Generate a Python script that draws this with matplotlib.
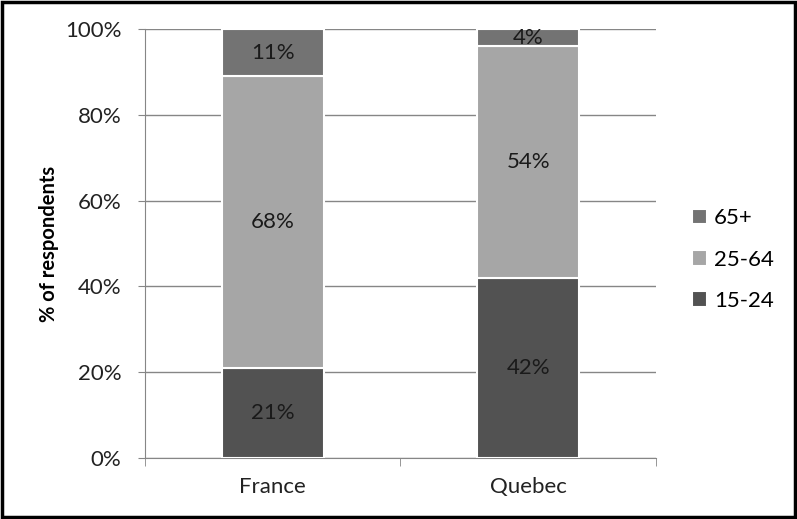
import matplotlib
matplotlib.use("Agg")
import matplotlib.pyplot as plt
from matplotlib.patches import Rectangle
import numpy as np

categories = ["France", "Quebec"]
series_names = ["15-24", "25-64", "65+"]
v_15_24 = [21, 42]
v_25_64 = [68, 54]
v_65p = [11, 4]
colors = ["#525252", "#a6a6a6", "#737373"]
yticks = [0, 20, 40, 60, 80, 100]

plt.rcParams['font.family'] = ['Lato', 'DejaVu Sans']

fig = plt.figure(figsize=(7.97, 5.19), dpi=100)
ax = fig.add_axes([0.182, 0.1175, 0.641, 0.8265])

x = np.arange(len(categories))
series = [v_15_24, v_25_64, v_65p]
bottom = np.zeros(len(categories))
for vals, name, c in zip(series, series_names, colors):
    vals = np.array(vals, dtype=float)
    ax.bar(x, vals, width=0.4, bottom=bottom, color=c, edgecolor="white",
           linewidth=1.5, label=name, zorder=3)
    for xi, b, v in zip(x, bottom, vals):
        ax.text(xi, b + v / 2, f"{int(v)}%", ha="center", va="center",
                fontsize=16, color="#1a1a1a", zorder=4)
    bottom += vals

ax.set_xlim(-0.5, 1.5)
ax.set_ylim(0, 100)
ax.set_yticks(yticks)
ax.set_yticklabels([f"{t}%" for t in yticks], fontsize=16, color="#222222")
ax.set_xticks(x)
ax.set_xticklabels(categories, fontsize=16, color="#222222")
ax.tick_params(axis="x", length=0, pad=14)
ax.tick_params(axis="y", length=5, color="#868686", pad=12)
ax.set_xticks([-0.5, 0.5, 1.5], minor=True)
ax.tick_params(axis="x", which="minor", length=6, color="#868686")
ax.grid(axis="y", color="#868686", linewidth=1, zorder=0)
for s in ["top", "right"]:
    ax.spines[s].set_visible(False)
ax.spines["left"].set_color("#868686")
ax.spines["bottom"].set_color("#868686")
ax.set_ylabel("% of respondents", fontsize=14.5, fontweight="bold", labelpad=4)

handles, labels = ax.get_legend_handles_labels()
leg = fig.legend(handles[::-1], labels[::-1], loc="center left",
                 bbox_to_anchor=(0.843, 0.5), frameon=False, fontsize=16,
                 handlelength=0.7, handleheight=0.7, handletextpad=0.3,
                 labelspacing=0.95)

fig.patches.append(Rectangle((0.002, 0.003), 0.996, 0.994, transform=fig.transFigure,
                             fill=False, edgecolor="black", linewidth=2.5))

fig.savefig("out.png", dpi=100)
